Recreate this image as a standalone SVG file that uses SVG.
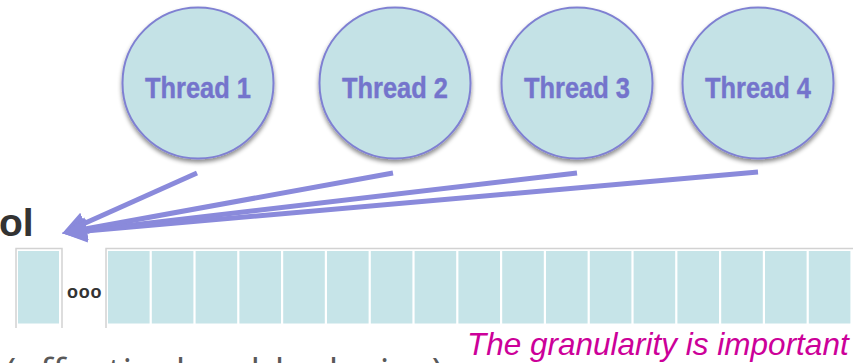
<svg xmlns="http://www.w3.org/2000/svg" width="856" height="363" viewBox="0 0 856 363">
  <defs>
    <filter id="shadow" x="-20%" y="-20%" width="140%" height="150%">
      <feDropShadow dx="0" dy="3" stdDeviation="2.2" flood-color="#000" flood-opacity="0.45"/>
    </filter>
    <marker id="head" markerUnits="userSpaceOnUse" markerWidth="28" markerHeight="26" refX="10" refY="12" orient="auto">
      <path d="M0,0.5 L25,12 L0,23.5 Z" fill="#8a8adb"/>
    </marker>
    <style>
      .thread circle { fill: #c4e2e6; stroke: #7f80d2; stroke-width: 2; filter: url(#shadow); }
      .thread text { font-family: "Liberation Sans", Arial, sans-serif; font-weight: bold; font-size: 29px; fill: #7474cc; text-anchor: middle; stroke: #7474cc; stroke-width: 0.4; }
      .link { stroke: #8a8adb; stroke-width: 5; fill: none; marker-end: url(#head); }
      .cell { fill: #c6e4e8; }
      .frame { stroke: #d2d2d2; stroke-width: 1.5; fill: none; }
    </style>
  </defs>

  <!-- heading fragment -->
  <text x="-1" y="236" font-family="Liberation Sans, Arial, sans-serif" font-weight="bold" font-size="39" fill="#333333">ol</text>

  <!-- worker threads -->
  <g id="thread1" class="thread">
    <circle cx="198" cy="83" r="75.5"/>
    <text x="198" y="98" textLength="106" lengthAdjust="spacingAndGlyphs">Thread 1</text>
  </g>
  <g id="thread2" class="thread">
    <circle cx="395" cy="83" r="75.5"/>
    <text x="395" y="98" textLength="106" lengthAdjust="spacingAndGlyphs">Thread 2</text>
  </g>
  <g id="thread3" class="thread">
    <circle cx="577" cy="83" r="75.5"/>
    <text x="577" y="98" textLength="106" lengthAdjust="spacingAndGlyphs">Thread 3</text>
  </g>
  <g id="thread4" class="thread">
    <circle cx="758" cy="83" r="75.5"/>
    <text x="758" y="98" textLength="106" lengthAdjust="spacingAndGlyphs">Thread 4</text>
  </g>

  <!-- connectors: every thread pulls from the head of the queue -->
  <g id="connectors">
    <line class="link" x1="197" y1="173" x2="75.8" y2="227.3"/>
    <line class="link" x1="393" y1="173" x2="76.8" y2="230.5"/>
    <line class="link" x1="577" y1="173" x2="76.9" y2="231.4"/>
    <line class="link" x1="758" y1="172" x2="76.9" y2="231.8"/>
  </g>

  <!-- work queue: first block, gap, then the remaining blocks -->
  <g id="queue">
    <polyline class="frame" points="16,328 16,248.5 62,248.5 62,328"/>
    <rect class="cell" x="18" y="251" width="41" height="72.5"/>
    <text x="67" y="298" font-family="Liberation Sans, Arial, sans-serif" font-weight="bold" font-size="18" letter-spacing="0.8" fill="#333333">ooo</text>
    <polyline class="frame" points="106,328 106,248.5 853,248.5"/>
    <rect class="cell" x="108" y="251" width="41.6" height="72.5"/>
    <rect class="cell" x="151.8" y="251" width="41.6" height="72.5"/>
    <rect class="cell" x="195.6" y="251" width="41.6" height="72.5"/>
    <rect class="cell" x="239.4" y="251" width="41.6" height="72.5"/>
    <rect class="cell" x="283.2" y="251" width="41.6" height="72.5"/>
    <rect class="cell" x="327" y="251" width="41.6" height="72.5"/>
    <rect class="cell" x="370.8" y="251" width="41.6" height="72.5"/>
    <rect class="cell" x="414.6" y="251" width="41.6" height="72.5"/>
    <rect class="cell" x="458.4" y="251" width="41.6" height="72.5"/>
    <rect class="cell" x="502.2" y="251" width="41.6" height="72.5"/>
    <rect class="cell" x="546" y="251" width="41.6" height="72.5"/>
    <rect class="cell" x="589.8" y="251" width="41.6" height="72.5"/>
    <rect class="cell" x="633.6" y="251" width="41.6" height="72.5"/>
    <rect class="cell" x="677.4" y="251" width="41.6" height="72.5"/>
    <rect class="cell" x="721.2" y="251" width="41.6" height="72.5"/>
    <rect class="cell" x="765" y="251" width="41.6" height="72.5"/>
    <rect class="cell" x="808.8" y="251" width="41.6" height="72.5"/>
  </g>

  <!-- captions -->
  <text x="5" y="386" font-family="'Open Sans', 'Liberation Sans', sans-serif" font-size="38" fill="#595959" textLength="438" lengthAdjust="spacing">(effectively a block size)</text>
  <text x="467" y="355" font-family="Liberation Sans, Arial, sans-serif" font-style="italic" font-size="31.5" fill="#cc0099">The granularity is important</text>
</svg>
